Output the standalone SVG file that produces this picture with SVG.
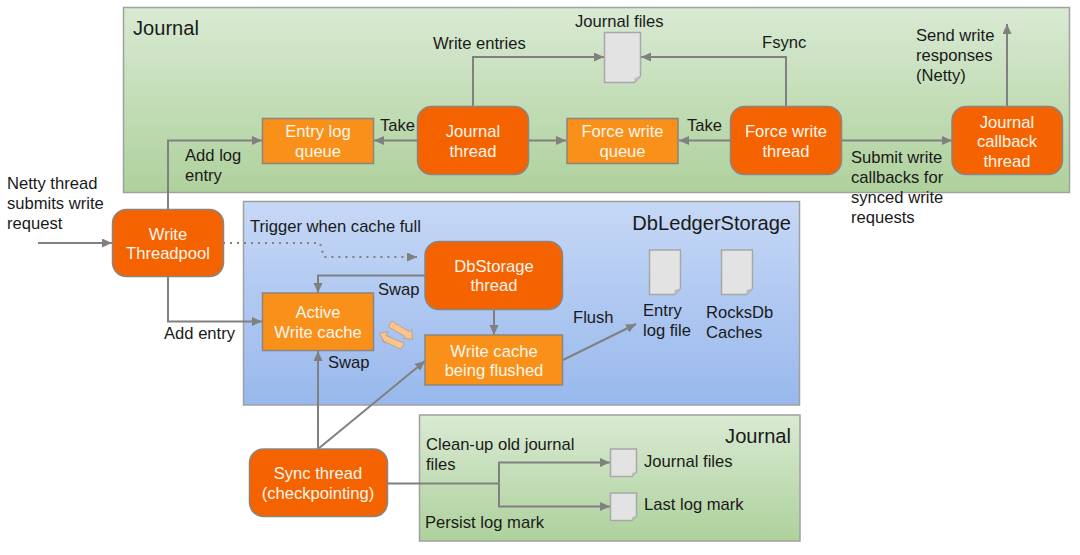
<svg xmlns="http://www.w3.org/2000/svg" width="1080" height="555" viewBox="0 0 1080 555">
<style>
text{font-family:"Liberation Sans",Arial,sans-serif;font-size:16.6px;fill:#1a1a1a}
.w{fill:#fff6ec;text-anchor:middle}
.big{font-size:20.1px}
.th{fill:#f56200;stroke:#8a8580;stroke-width:1.5}
.q{fill:#f9901a;stroke:#8a8580;stroke-width:1.5}
.p{stroke:#a0a0a0;stroke-width:1.5}
.c{fill:none;stroke:#808080;stroke-width:2}
.a{marker-end:url(#ah)}
.f{fill:#e3e3e3;stroke:#a8a8a8;stroke-width:1.5}
.s{fill:#fcc48c;stroke:#b5a48f;stroke-width:1}
</style>
<defs>
<linearGradient id="g" x1="0" y1="0" x2="0" y2="1"><stop offset="0" stop-color="#d9ead3"/><stop offset="1" stop-color="#aed19c"/></linearGradient>
<linearGradient id="b" x1="0" y1="0" x2="0" y2="1"><stop offset="0" stop-color="#c6d8f6"/><stop offset="1" stop-color="#98b8ec"/></linearGradient>
<marker id="ah" markerUnits="userSpaceOnUse" markerWidth="12" markerHeight="10" refX="10" refY="4.5" orient="auto"><path d="M0 0L10 4.5L0 9z" fill="#808080"/></marker>
</defs>
<g id="panel-journal"><rect class="p" x="123.5" y="7.5" width="946" height="185" fill="url(#g)"/><text class="big" x="133" y="34.500">Journal</text></g>
<g id="panel-dbledgerstorage"><rect class="p" x="243.5" y="201.5" width="556" height="203.5" fill="url(#b)"/><text class="big" x="791" y="230" text-anchor="end">DbLedgerStorage</text></g>
<g id="panel-journal-2"><rect class="p" x="419.5" y="415" width="380.5" height="126" fill="url(#g)"/><text class="big" x="791" y="443" text-anchor="end">Journal</text></g>
<g id="connectors">
<path class="c a" d="M168 209V140.500H262"/>
<path class="c a" d="M417 140.500H374"/>
<path class="c a" d="M529 140.500H566"/>
<path class="c a" d="M473 107V57H604"/>
<path class="c a" d="M786 107V57H641"/>
<path class="c a" d="M731 140.500H679"/>
<path class="c a" d="M841 140.500H952"/>
<path class="c a" d="M1007 107V24"/>
<path class="c a" d="M38 243H112"/>
<path class="c a" d="M168 276V321.500H262"/>
<path class="c a" d="M223 243H320L324 257H417" stroke-dasharray="2 5"/>
<path class="c a" d="M425 275.500H318V293"/>
<path class="c a" d="M494 309V335"/>
<path class="c a" d="M318 449V351"/>
<path class="c a" d="M318 449L425 361"/>
<path class="c a" d="M563 360L636 324"/>
<path class="c" d="M387 483.500H499"/>
<path class="c a" d="M499 483.500V462.500H610"/>
<path class="c a" d="M499 483.500V506.500H610"/>
</g>
<g id="swap-arrows">
<path class="s" d="M391.700 321L409.300 331.700L411.700 329.300L412.700 339.300L403.300 338.300L405 336.500L388.300 326.700z"/>
<path class="s" d="M379.300 333.300L388.300 331.700L386 335.500L404.300 343.300L400.700 349.300L382.500 340.500L385 343.300z"/>
</g>
<g id="write-threadpool"><rect class="th" x="112.500" y="209.500" width="111" height="67" rx="14"/><text class="w" x="168" y="240">Write</text><text class="w" x="168" y="259">Threadpool</text></g>
<g id="entry-log-queue"><rect class="q" x="262.500" y="118.500" width="111" height="45"/><text class="w" x="318" y="137">Entry log</text><text class="w" x="318" y="157">queue</text></g>
<g id="journal-thread"><rect class="th" x="417.500" y="106.500" width="111" height="68" rx="14"/><text class="w" x="473" y="137">Journal</text><text class="w" x="473" y="157">thread</text></g>
<g id="force-write-queue"><rect class="q" x="567" y="118.500" width="111" height="45"/><text class="w" x="622.500" y="137">Force write</text><text class="w" x="622.500" y="157">queue</text></g>
<g id="force-write-thread"><rect class="th" x="730.500" y="106.500" width="111" height="68" rx="14"/><text class="w" x="786" y="137">Force write</text><text class="w" x="786" y="157">thread</text></g>
<g id="journal-callback-thread"><rect class="th" x="952" y="106.500" width="110.500" height="68" rx="14"/><text class="w" x="1007" y="128">Journal</text><text class="w" x="1007" y="147">callback</text><text class="w" x="1007" y="167">thread</text></g>
<g id="journal-files-doc"><path class="f" d="M604.500 32.500H640.500V76L634.500 82.500H604.500z"/><path d="M640.500 76L634.500 82.500V78z" fill="#bdbdbd"/></g>
<g id="dbstorage-thread"><rect class="th" x="425" y="241.500" width="137.500" height="68" rx="14"/><text class="w" x="494" y="272">DbStorage</text><text class="w" x="494" y="291">thread</text></g>
<g id="active-write-cache"><rect class="q" x="262.500" y="293" width="111" height="57.500"/><text class="w" x="318" y="318">Active</text><text class="w" x="318" y="338">Write cache</text></g>
<g id="write-cache-flushed"><rect class="q" x="425" y="335" width="137.500" height="50"/><text class="w" x="494" y="357">Write cache</text><text class="w" x="494" y="376">being flushed</text></g>
<g id="entry-log-file"><path class="f" d="M649.500 250H680.500V288.500L674.500 294.500H649.500z"/><path d="M680.500 288.500L674.500 294.500V290z" fill="#bdbdbd"/></g>
<g id="rocksdb-caches"><path class="f" d="M721.500 250H752.500V288.500L746.500 294.500H721.500z"/><path d="M752.500 288.500L746.500 294.500V290z" fill="#bdbdbd"/></g>
<g id="sync-thread"><rect class="th" x="249.500" y="449" width="138" height="67.500" rx="14"/><text class="w" x="318" y="479">Sync thread</text><text class="w" x="318" y="499">(checkpointing)</text></g>
<g id="journal-files-doc-2"><path class="f" d="M610.500 449H636.500V472L632 476.500H610.500z"/><path d="M636.500 472L632 476.500V473z" fill="#bdbdbd"/></g>
<g id="last-log-mark-doc"><path class="f" d="M610.500 493H636.500V516L632 520.500H610.500z"/><path d="M636.500 516L632 520.500V517z" fill="#bdbdbd"/></g>
<g id="labels">
<text x="575" y="26.500">Journal files</text>
<text x="433" y="48.500">Write entries</text>
<text x="762" y="48">Fsync</text>
<text x="916" y="41">Send write</text><text x="916" y="61">responses</text><text x="916" y="81">(Netty)</text>
<text x="380" y="131">Take</text>
<text x="687" y="131">Take</text>
<text x="185" y="161">Add log</text><text x="185" y="181">entry</text>
<text x="851" y="163">Submit write</text><text x="851" y="183">callbacks for</text><text x="851" y="203">synced write</text><text x="851" y="223">requests</text>
<text x="7" y="189">Netty thread</text><text x="7" y="209">submits write</text><text x="7" y="229">request</text>
<text x="250" y="232">Trigger when cache full</text>
<text x="378" y="295">Swap</text>
<text x="573" y="323">Flush</text>
<text x="643" y="316">Entry</text><text x="643" y="336">log file</text>
<text x="706" y="318">RocksDb</text><text x="706" y="338">Caches</text>
<text x="164" y="339">Add entry</text>
<text x="328" y="368">Swap</text>
<text x="426" y="450">Clean-up old journal</text><text x="426" y="470">files</text>
<text x="425" y="528">Persist log mark</text>
<text x="644" y="467">Journal files</text>
<text x="644" y="510">Last log mark</text>
</g>
</svg>
